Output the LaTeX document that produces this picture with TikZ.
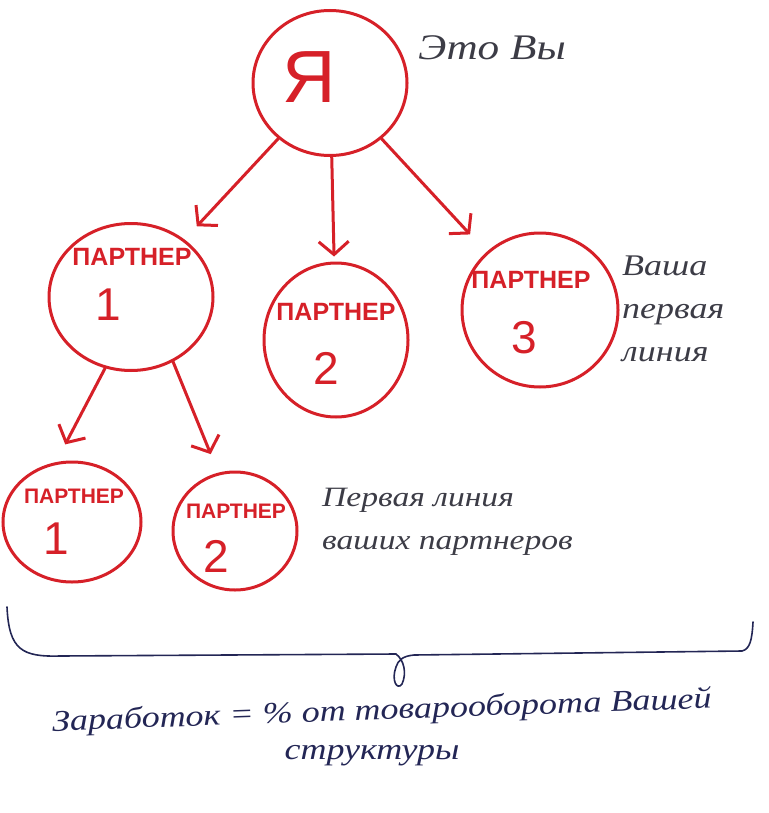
\documentclass[tikz,border=0pt]{standalone}
\usepackage{
	fontspec,			% Fonts
	xcolor				% Colours
}
\usetikzlibrary{shapes.geometric,arrows.meta}
\setmainfont{Liberation Sans}
\newfontfamily\handfont[FakeStretch=1.2]{Liberation Serif}
\definecolor{marker}{RGB}{214,32,40}
\definecolor{pencil}{RGB}{60,60,70}
\definecolor{ink}{RGB}{35,38,85}
\tikzset{
	partner/.style={ellipse, draw=marker, line width=3pt, inner sep=0pt},
	pname/.style={text=marker, inner sep=0pt, font=\bfseries\fontsize{25}{25}\selectfont},
	pnum/.style={text=marker, inner sep=0pt, font=\fontsize{46}{46}\selectfont},
	link/.style={draw=marker, line width=3pt, line cap=round,
		-{Straight Barb[length=13pt,width=30pt]}},
	note/.style={inner sep=0pt, font=\handfont\itshape\fontsize{30}{43}\selectfont, align=left}
}

\begin{document}
\begin{tikzpicture}[x=1pt,y=-1pt]
		\useasboundingbox (0,0) rectangle (768,813);
		% circles
		\node[partner, minimum width=154pt, minimum height=145pt] (ya) at (330,83) {};
		\node[partner, minimum width=164pt, minimum height=147pt] (p1) at (131,297) {};
		\node[partner, minimum width=144pt, minimum height=154pt] (p2) at (336,340) {};
		\node[partner, minimum width=156pt, minimum height=154pt] (p3) at (540,310) {};
		\node[partner, minimum width=138pt, minimum height=120pt] (b1) at (72,522) {};
		\node[partner, minimum width=124pt, minimum height=118pt] (b2) at (235,531) {};
		% texts in the circles
		\node[text=marker, inner sep=0pt, font=\fontsize{74}{74}\selectfont] (yaname) at (309,77) {Я};
		\node[pname] (p1name) at (132,257) {ПАРТНЕР};
		\node[pnum] (p1num) at (108,305) {1};
		\node[pname] (p2name) at (336,312) {ПАРТНЕР};
		\node[pnum] (p2num) at (326,368) {2};
		\node[pname] (p3name) at (531,280) {ПАРТНЕР};
		\node[pnum] (p3num) at (524,338) {3};
		\node[pname, font=\bfseries\fontsize{21}{21}\selectfont] (b1name) at (74,496) {ПАРТНЕР};
		\node[pnum] (b1num) at (56,539) {1};
		\node[pname, font=\bfseries\fontsize{21}{21}\selectfont] (b2name) at (236,511) {ПАРТНЕР};
		\node[pnum] (b2num) at (216,556) {2};
		% arrows
		\draw[link, shorten >=18pt] (ya) -- (p1);
		\draw[link, shorten >=5pt] (ya) -- (p2);
		\draw[link, shorten >=24pt] (ya) -- (p3);
		\draw[link, shorten >=20pt] (p1.250) -- (b1.105);
		\draw[link, shorten >=20pt] (p1.303) -- (b2.106);
		% notes
		\node[note, text=pencil, font=\handfont\itshape\fontsize{36}{36}\selectfont] (you) at (492,48) {Это Вы};
		\node[note, text=pencil, anchor=north west] (first) at (622,256) {Ваша\\первая\\линия};
		\node[note, text=pencil, anchor=north west, font=\handfont\itshape\fontsize{28}{43}\selectfont] (second) at (322,488) {Первая линия\\ваших партнеров};
		% brace
		\draw[ink, line width=1.6pt, line cap=round] (7,607) .. controls (9,650) and (22,657) .. (60,656)
			-- (396,654) .. controls (404,660) and (407,673) .. (402,684)
			.. controls (397,691) and (391,680) .. (396,667)
			.. controls (398,660) and (403,656) .. (414,655)
			-- (742,651) .. controls (750,649) and (752,640) .. (753,622);
		\node[note, text=ink, rotate=2] (earn) at (382,712) {Заработок = \% от товарооборота Вашей};
		\node[note, text=ink] (struct) at (372,756) {структуры};
	\end{tikzpicture}
\end{document}
